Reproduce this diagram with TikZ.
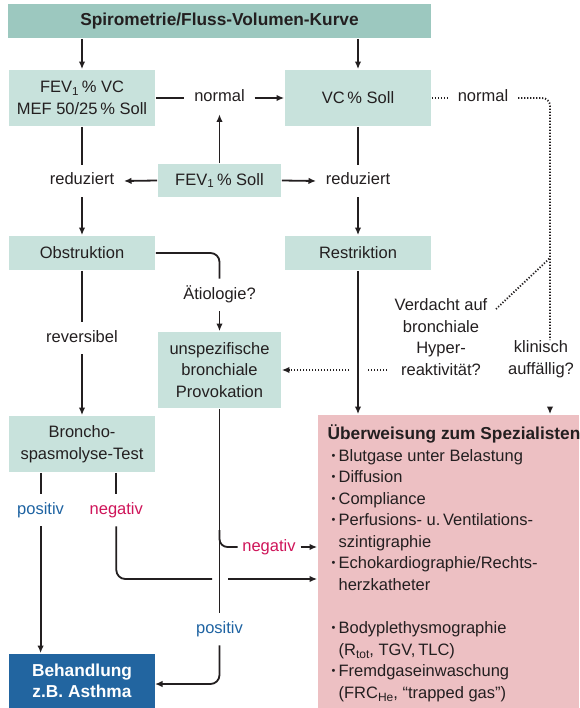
\documentclass[tikz,border=0pt]{standalone}
\usepackage{fontspec}
\setmainfont{Liberation Sans}
\usetikzlibrary{arrows.meta}
\definecolor{hdr}{HTML}{9CC8BF}
\definecolor{lbox}{HTML}{C8E2DC}
\definecolor{pbox}{HTML}{EDC0C3}
\definecolor{bbox}{HTML}{2265A0}
\definecolor{posc}{HTML}{1E63A2}
\definecolor{negc}{HTML}{CF1459}
\definecolor{ink}{HTML}{231F20}
\newcommand\myfs{\fontsize{16.5}{21.5}\selectfont}
\newcommand\mybf{\fontsize{17.3}{21.5}\selectfont\bfseries}
\newcommand\bul{\makebox[7pt][l]{\raisebox{1.5pt}{\fontsize{11}{11}\selectfont •}}}
\newcommand\lsub[1]{\raisebox{-3.5pt}{\fontsize{12}{12}\selectfont #1}}
\tikzset{
  box/.style={fill=lbox, draw=none, inner sep=0pt, align=center, font=\myfs, text=ink},
  lbl/.style={inner xsep=9pt, inner ysep=8pt, text height=11.5pt, text depth=3.5pt, font=\myfs, text=ink},
  mlbl/.style={inner sep=0pt, align=center, font=\myfs, text=ink},
  tl/.style={anchor=base west, inner sep=0pt, font=\myfs, text=ink},
  arr/.style={-{Latex[length=7.5pt,width=6.5pt]}},
  dotl/.style={line width=1.8pt, dash pattern=on 1.2pt off 1.8pt},
}
\begin{document}
\begin{tikzpicture}[x=1pt,y=-1pt,line width=1.8pt,draw=ink]
\useasboundingbox[fill=white] (0,0) rectangle (579,708);
% boxes
\node[box,fill=hdr,minimum width=423pt,minimum height=34pt,font=\mybf] (top) at (219.5,21) {Spirometrie/Fluss-Volumen-Kurve};
\node[box,minimum width=146pt,minimum height=56pt] (fev) at (82,98) {FEV\textsubscript{1}\,\% VC\\MEF 50/25\,\% Soll};
\node[box,minimum width=146pt,minimum height=56pt] (vc) at (358,98) {VC\,\% Soll};
\node[box,minimum width=123pt,minimum height=33pt] (fs) at (219.5,180.5) {FEV\textsubscript{1}\,\% Soll};
\node[box,minimum width=146pt,minimum height=34pt] (obs) at (82,253) {Obstruktion};
\node[box,minimum width=146pt,minimum height=34pt] (res) at (358,253) {Restriktion};
\node[box,minimum width=123pt,minimum height=76pt] (prov) at (219.5,370) {unspezifische\\bronchiale\\Provokation};
\node[box,minimum width=146pt,minimum height=56pt] (bron) at (82,444) {Broncho-\\spasmolyse-Test};
\node[box,fill=bbox,text=white,font=\mybf,minimum width=146pt,minimum height=54pt] (beh) at (82,681) {Behandlung\\z.B. Asthma};
\node[box,fill=pbox,minimum width=261pt,minimum height=293pt] (ueb) at (448.5,561.5) {};
% labels
\node[lbl] (n1) at (219.5,98) {normal};
\node[lbl] (n2) at (483,98) {normal};
\node[lbl] (rl) at (82,181) {reduziert};
\node[lbl] (rr) at (358,181) {reduziert};
\node[lbl] (aet) at (219.5,295) {Ätiologie?};
\node[lbl] (rev) at (82,338) {reversibel};
\node[mlbl] (verd) at (441,337) {Verdacht auf\\bronchiale\\Hyper-\\reaktivität?};
\node[mlbl] (klin) at (541,359) {klinisch\\auffällig?};
\node[lbl,text=posc] (posL) at (40.6,510) {positiv};
\node[lbl,text=negc] (negL) at (116.3,510) {negativ};
\node[lbl,text=posc] (posM) at (219.5,629) {positiv};
\node[lbl,text=negc,inner xsep=4pt] (negM) at (269,547) {negativ};
% Ueberweisung text
\node[tl,font=\mybf] (u0) at (326.7,439) {Überweisung zum Spezialisten};
\node[tl] (u1) at (330.7,461) {\bul Blutgase unter Belastung};
\node[tl] (u2) at (330.7,482) {\bul Diffusion};
\node[tl] (u3) at (330.7,504) {\bul Compliance};
\node[tl] (u4) at (330.7,525) {\bul Perfusions- u.\,Ventilations-};
\node[tl] (u5) at (337.7,547) {szintigraphie};
\node[tl] (u6) at (330.7,568) {\bul Echokardiographie/Rechts-};
\node[tl] (u7) at (337.7,590) {herzkatheter};
\node[tl] (u8) at (330.7,633) {\bul Bodyplethysmographie};
\node[tl] (u9) at (337.7,655) {(R\lsub{tot}, TGV,\,TLC)};
\node[tl] (u10) at (330.7,676) {\bul Fremdgaseinwaschung};
\node[tl] (u11) at (337.7,698) {(FRC\lsub{He}, “trapped gas”)};
% coordinates
\coordinate (kt) at (550,340);
\coordinate (kb) at (550,407);
\coordinate (dg) at (550,258);
\coordinate (vd) at (496,309);
\coordinate (vh) at (387,370);
\coordinate (h1) at (367,370);
\coordinate (h2) at (349,370);
\coordinate (g1) at (212,579);
\coordinate (g2) at (228,579);
\coordinate (bh) at (155,684);
\coordinate (br) at (219.5,530);
% connectors
\draw[arr] (top.south -| fev.north) -- (fev.north);
\draw[arr] (top.south -| vc.north) -- (vc.north);
\draw (fev.east) -- (n1.west);
\draw[arr] (n1.east) -- (vc.west);
\draw[arr] (fs.north) -- (n1.south);
\draw[arr] (fs.west) -- (rl.east);
\draw[arr] (fs.east) -- (rr.west);
\draw (fev.south) -- (rl.north);
\draw[arr] (rl.south) -- (obs.north);
\draw (vc.south) -- (rr.north);
\draw[arr] (rr.south) -- (res.north);
\draw[rounded corners=9pt] (obs.east) -| (aet.north);
\draw[arr] (aet.south) -- (prov.north);
\draw (obs.south) -- (rev.north);
\draw[arr] (rev.south) -- (bron.north);
\draw[arr] (res.south) -- (ueb.north -| res.south);
\draw[dotl] (vc.east) -- (n2.west);
\draw[dotl,rounded corners=8pt] (n2.east) -| (kt);
\draw[dotl,arr] (kb) -- (ueb.north -| kb);
\draw[dotl] (vd) -- (dg);
\draw[dotl] (vh) -- (h1);
\draw[dotl,arr] (h2) -- (prov.east |- h2);
\draw (bron.south -| posL) -- (posL.north);
\draw[arr] (posL.south) -- (beh.north -| posL);
\draw (bron.south -| negL) -- (negL.north);
\draw[rounded corners=9pt] (negL.south) |- (g1);
\draw[arr] (g2) -- (ueb.west |- g2);
\draw (prov.south) -- (posM.north);
\draw[arr,rounded corners=9pt] (posM.south) |- (bh);
\draw[rounded corners=8pt] (br) |- (negM.west);
\draw[arr] (negM.east) -- (ueb.west |- negM.east);
\end{tikzpicture}
\end{document}
